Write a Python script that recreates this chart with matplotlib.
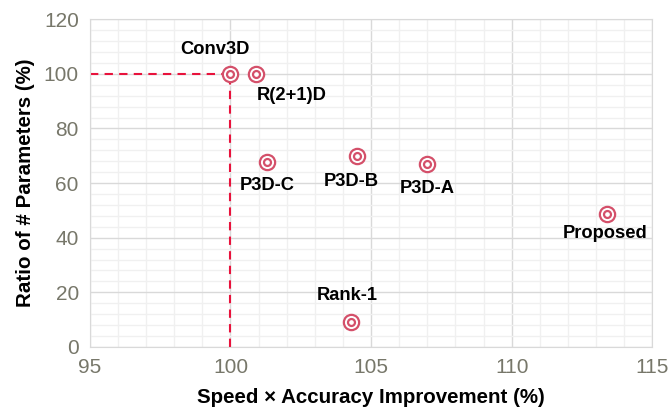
import matplotlib.pyplot as plt
from matplotlib.ticker import MultipleLocator

plt.rcParams['font.family'] = ['Liberation Sans', 'DejaVu Sans']

# data
names = ["Conv3D", "R(2+1)D", "P3D-C", "P3D-B", "P3D-A", "Proposed", "Rank-1"]
speed_acc = [100.0, 100.9, 101.3, 104.5, 107.0, 113.4, 104.3]
param_ratio = [100.0, 100.0, 67.8, 70.0, 66.9, 48.5, 9.3]
# label offsets in pixels (dx, dy)
offsets = [(-16, 24), (36, -22), (0, -24), (-6, -26), (0, -24), (-2, -19), (-4, 26)]

fig = plt.figure(figsize=(6.71, 4.17), dpi=100)
ax = fig.add_axes([0.134, 0.168, 0.838, 0.786])

ax.set_xlim(95, 115)
ax.set_ylim(0, 120)
ax.xaxis.set_major_locator(MultipleLocator(5))
ax.xaxis.set_minor_locator(MultipleLocator(1))
ax.yaxis.set_major_locator(MultipleLocator(20))
ax.yaxis.set_minor_locator(MultipleLocator(4))
ax.grid(which='major', color='#d9d9d9', linewidth=1.0)
ax.grid(which='minor', color='#f0f0f0', linewidth=1.0)
ax.set_axisbelow(True)
for s in ax.spines.values():
    s.set_color('#d9d9d9')
ax.tick_params(which='both', length=0, labelsize=15, labelcolor='#77776a', pad=8)

# reference lines for Conv3D
ax.plot([95, 100], [100, 100], color='#e8123c', linestyle=(0, (4, 3)), linewidth=1.5, zorder=2)
ax.plot([100, 100], [0, 100], color='#e8123c', linestyle=(0, (4, 3)), linewidth=1.5, zorder=2)

ax.plot(speed_acc, param_ratio, linestyle='none', marker='o', markersize=11,
        markerfacecolor='white', markeredgecolor='#d4506a', markeredgewidth=1.6, zorder=3)
ax.plot(speed_acc, param_ratio, linestyle='none', marker='o', markersize=5,
        markerfacecolor='none', markeredgecolor='#d4506a', markeredgewidth=1.6, zorder=4)

for n, x, y, (dx, dy) in zip(names, speed_acc, param_ratio, offsets):
    ax.annotate(n, (x, y), xytext=(dx, dy), textcoords='offset pixels',
                ha='center', va='center', fontsize=13.2, fontweight='bold', color='black')

ax.set_xlabel("Speed × Accuracy Improvement (%)", fontsize=14.8, fontweight='bold', labelpad=8)
ax.set_ylabel("Ratio of # Parameters (%)", fontsize=14.8, fontweight='bold', labelpad=6)

fig.savefig('out.png', dpi=100)
